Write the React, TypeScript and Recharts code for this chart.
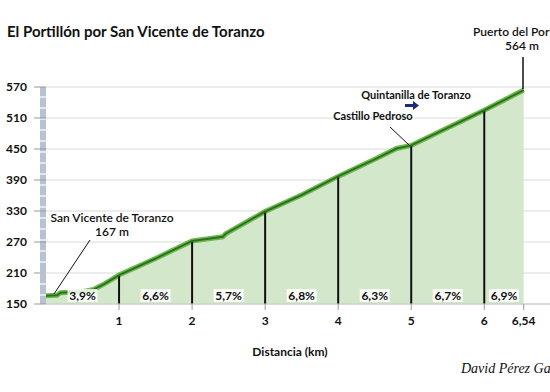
import React from 'react';
import {
  ComposedChart, Area, Line, XAxis, YAxis, CartesianGrid, ReferenceLine, Scatter,
} from 'recharts';

// perfil: distancia (km) / altitud (m)
const distKm = [0, 0.15, 0.2, 0.5, 0.65, 0.8, 1, 1.5, 2, 2.2, 2.42, 2.46, 3, 3.5, 4, 4.5, 4.8, 5, 5.5, 6, 6.54];
const elevM = [166, 167, 172, 174, 178, 189, 206, 238, 272, 276, 280, 286, 329, 361, 397, 430, 451, 457, 491, 525, 564];

// pendiente media de cada tramo
const segMidKm = [0.5, 1.5, 2.5, 3.5, 4.5, 5.5, 6.27];
const segGrade = ['3,9%', '6,6%', '5,7%', '6,8%', '6,3%', '6,7%', '6,9%'];

const kmMarks = [1, 2, 3, 4, 5, 6];
const xTicks = [1, 2, 3, 4, 5, 6, 6.54];
const yTicks = [150, 210, 270, 330, 390, 450, 510, 570];

const profile = distKm.map((km, i) => ({ km, elev: elevM[i] }));
const gradeData = segMidKm.map((km, i) => ({ km, elev: 150, label: segGrade[i] }));
const elevAt = (k: number) => elevM[distKm.indexOf(k)];

const FONT = 'Lato, "Open Sans", sans-serif';

const GradeLabel = (props: any) => {
  const { cx, cy, payload } = props;
  return (
    <g>
      <rect x={cx - 15} y={cy - 15} width={30} height={13} fill="#ffffff" opacity={0.85} />
      <text x={cx} y={cy - 4} textAnchor="middle" fontFamily={FONT} fontWeight={700} fontSize={12} fill="#111">
        {payload.label}
      </text>
    </g>
  );
};

export default function App() {
  return (
    <div style={{ position: 'absolute', left: 0, top: 0, width: 550, height: 392, background: '#fff', overflow: 'hidden' }}>
      <div
        style={{
          position: 'absolute', left: 40, top: 87, width: 6, height: 217,
          background: 'repeating-linear-gradient(to bottom, #b7c2d2 0px, #b7c2d2 9px, #e4e8ee 9px, #e4e8ee 11px)',
        }}
      />
      <ComposedChart
        width={550}
        height={392}
        data={profile}
        margin={{ top: 87, right: 0, bottom: 0, left: 0 }}
        style={{ position: 'absolute', left: 0, top: 0 }}
      >
        <CartesianGrid vertical={false} stroke="#d9d9d9" />
        <XAxis
          dataKey="km"
          type="number"
          domain={[0, 6.9]}
          ticks={xTicks}
          tickFormatter={(v: number) => String(v).replace('.', ',')}
          tick={{ fontFamily: FONT, fontWeight: 700, fontSize: 12, fill: '#111' }}
          tickLine={{ stroke: '#999' }}
          tickSize={6}
          tickMargin={6}
          axisLine={{ stroke: '#c8c8c8' }}
          height={88}
        />
        <YAxis
          type="number"
          domain={[150, 570]}
          ticks={yTicks}
          width={46}
          tick={{ fontFamily: FONT, fontWeight: 700, fontSize: 12, fill: '#111' }}
          tickLine={{ stroke: '#999' }}
          tickSize={12}
          tickMargin={7}
          axisLine={false}
        />
        <Area
          type="linear"
          dataKey="elev"
          fill="#d3e7cb"
          fillOpacity={1}
          stroke="#6fb84e"
          strokeWidth={5}
          isAnimationActive={false}
        />
        {kmMarks.map((k) => (
          <ReferenceLine
            key={k}
            segment={[{ x: k, y: 150 }, { x: k, y: elevAt(k) }]}
            stroke="#111"
            strokeWidth={2}
          />
        ))}
        <Line
          type="linear"
          dataKey="elev"
          stroke="#2a731e"
          strokeWidth={2}
          dot={false}
          isAnimationActive={false}
        />
        <Scatter data={gradeData} dataKey="elev" shape={<GradeLabel />} isAnimationActive={false} />
      </ComposedChart>
      <svg width={550} height={392} style={{ position: 'absolute', left: 0, top: 0, pointerEvents: 'none' }}>
        <g fontFamily={FONT} fill="#111">
          <text x={7} y={37} fontSize={15} fontWeight={700}>El Portillón por San Vicente de Toranzo</text>
          <text x={473} y={36} fontSize={12} fontWeight={600}>Puerto del Portillo</text>
          <text x={522} y={50} fontSize={12} fontWeight={600} textAnchor="middle">564 m</text>
          <line x1={523} y1={57} x2={523} y2={89} stroke="#111" strokeWidth={1.5} />
          <text x={416} y={99} fontSize={11} fontWeight={700} textAnchor="middle">Quintanilla de Toranzo</text>
          <polygon points="405,104 413,104 413,101 419,105.5 413,110 413,107 405,107" fill="#1d2a7a" />
          <text x={373} y={120} fontSize={11} fontWeight={700} textAnchor="middle">Castillo Pedroso</text>
          <line x1={390} y1={127} x2={409} y2={145} stroke="#111" strokeWidth={1} />
          <text x={112} y={222} fontSize={12} fontWeight={600} textAnchor="middle">San Vicente de Toranzo</text>
          <text x={112} y={236} fontSize={12} fontWeight={600} textAnchor="middle">167 m</text>
          <line x1={90} y1={240} x2={54} y2={294} stroke="#111" strokeWidth={1} />
          <text x={290} y={356} fontSize={12} fontWeight={700} textAnchor="middle">Distancia (km)</text>
          <text x={461} y={373} fontSize={14} fontStyle="italic" fontFamily='"Liberation Serif", serif'>David Pérez García</text>
        </g>
      </svg>
    </div>
  );
}
